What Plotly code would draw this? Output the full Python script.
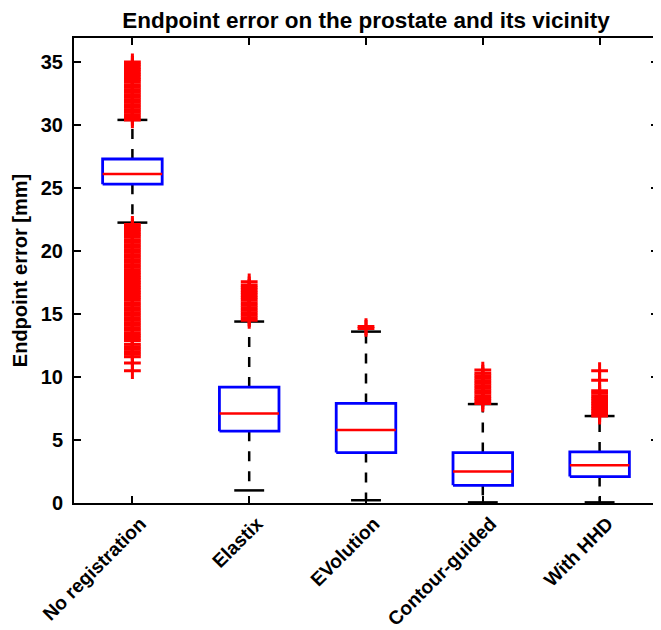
import plotly.graph_objects as go

categories = ["No registration", "Elastix", "EVolution", "Contour-guided", "With HHD"]
q1 = [25.3, 5.7, 4.0, 1.4, 2.1]
median = [26.1, 7.1, 5.8, 2.5, 3.0]
q3 = [27.3, 9.2, 7.9, 4.0, 4.05]
lower_whisker = [22.25, 1.0, 0.22, 0.05, 0.05]
upper_whisker = [30.4, 14.4, 13.6, 7.85, 6.9]

out_noreg = [30.4, 30.6, 30.8, 31.0, 31.2, 31.4, 31.6, 31.8, 32.0, 32.2, 32.4, 32.6,
             32.8, 33.0, 33.2, 33.4, 33.6, 33.8, 34.0, 34.2, 34.4, 34.6, 34.8, 35.0,
             10.5, 11.1, 11.6, 11.8, 12.0, 12.2, 12.4, 12.6, 12.9, 13.1, 13.3, 13.5, 13.7,
             13.9, 14.1, 14.3, 14.5, 14.7, 14.9, 15.1, 15.3, 15.5, 15.7, 15.9, 16.1, 16.3,
             16.5, 16.7, 16.9, 17.1, 17.3, 17.5, 17.7, 17.9, 18.1, 18.3, 18.5, 18.7, 18.9,
             19.1, 19.3, 19.5, 19.7, 19.9, 20.1, 20.3, 20.5, 20.7, 20.9, 21.1, 21.3, 21.5,
             21.7, 21.9, 22.1]
out_elastix = [14.5, 14.7, 14.9, 15.1, 15.3, 15.5, 15.7, 15.9, 16.1, 16.3, 16.5, 16.7,
               16.9, 17.1, 17.3, 17.55]
out_evolution = [13.85, 14.0]
out_contour = [7.9, 8.1, 8.3, 8.5, 8.7, 8.9, 9.1, 9.3, 9.5, 9.7, 9.9, 10.1,
               10.3, 10.55]
out_hhd = [6.9, 7.1, 7.3, 7.5, 7.7, 7.9, 8.1, 8.3, 8.5, 8.7, 8.9, 9.75, 10.5]

outliers = [out_noreg, out_elastix, out_evolution, out_contour, out_hhd]

y_ticks = [0, 5, 10, 15, 20, 25, 30, 35]

BOX_HALF = 0.255
CAP_HALF = 0.128
FONT = "Liberation Sans"
# the page body has an 8px default margin, so the figure is sized to fit the window
FIG_W, FIG_H = 653, 622

fig = go.Figure()

for i, name in enumerate(categories):
    x = i + 1
    # whiskers (dashed)
    fig.add_trace(go.Scatter(
        x=[x, x, None, x, x],
        y=[q3[i], upper_whisker[i], None, q1[i], lower_whisker[i]],
        mode="lines", line=dict(color="black", width=2.5, dash="10px,10px"),
        hoverinfo="skip", showlegend=False))
    # caps
    fig.add_trace(go.Scatter(
        x=[x - CAP_HALF, x + CAP_HALF, None, x - CAP_HALF, x + CAP_HALF],
        y=[upper_whisker[i], upper_whisker[i], None, lower_whisker[i], lower_whisker[i]],
        mode="lines", line=dict(color="black", width=2.5),
        hoverinfo="skip", showlegend=False))
    # box
    fig.add_trace(go.Scatter(
        x=[x - BOX_HALF, x + BOX_HALF, x + BOX_HALF, x - BOX_HALF, x - BOX_HALF],
        y=[q1[i], q1[i], q3[i], q3[i], q1[i]],
        mode="lines", line=dict(color="#0000ff", width=2.8),
        hoverinfo="skip", showlegend=False))
    # median
    fig.add_trace(go.Scatter(
        x=[x - BOX_HALF, x + BOX_HALF],
        y=[median[i], median[i]],
        mode="lines", line=dict(color="#ff0000", width=2.5),
        hoverinfo="skip", showlegend=False))
    # outliers
    fig.add_trace(go.Scatter(
        x=[x] * len(outliers[i]), y=outliers[i],
        mode="markers",
        marker=dict(symbol="cross-thin", size=12, line=dict(color="#ff0000", width=3)),
        hoverinfo="y", showlegend=False))

fig.update_layout(
    width=FIG_W, height=FIG_H,
    margin=dict(l=66, r=3, t=30, b=127),
    paper_bgcolor="white", plot_bgcolor="white",
    font=dict(family=FONT, size=20, color="black", weight="bold"),
    title=dict(text="Endpoint error on the prostate and its vicinity",
               x=0.5, xref="paper", xanchor="center",
               y=1 - 12 / FIG_H, yref="container", yanchor="middle",
               font=dict(family=FONT, size=22.5, color="black", weight="bold")),
    xaxis=dict(range=[0.5, 5.5], tickvals=[1, 2, 3, 4, 5], ticktext=categories,
               tickangle=-45, ticks="inside", ticklen=7, tickwidth=2, tickcolor="black",
               showline=True, linecolor="black", linewidth=2, mirror="ticks",
               showgrid=False, zeroline=False, automargin=False,
               ticklabelshift=8, ticklabelstandoff=0,
               tickfont=dict(family=FONT, size=19.2, color="black", weight="bold")),
    yaxis=dict(range=[0, 36.9], tickvals=y_ticks,
               ticks="inside", ticklen=7, tickwidth=2, tickcolor="black",
               showline=True, linecolor="black", linewidth=2, mirror="ticks",
               showgrid=False, zeroline=False, automargin=False,
               ticklabelstandoff=5,
               title=dict(text="Endpoint error [mm]", standoff=8,
                          font=dict(family=FONT, size=20, color="black", weight="bold")),
               tickfont=dict(family=FONT, size=20, color="black", weight="bold")),
)

fig.write_html("out.html")
